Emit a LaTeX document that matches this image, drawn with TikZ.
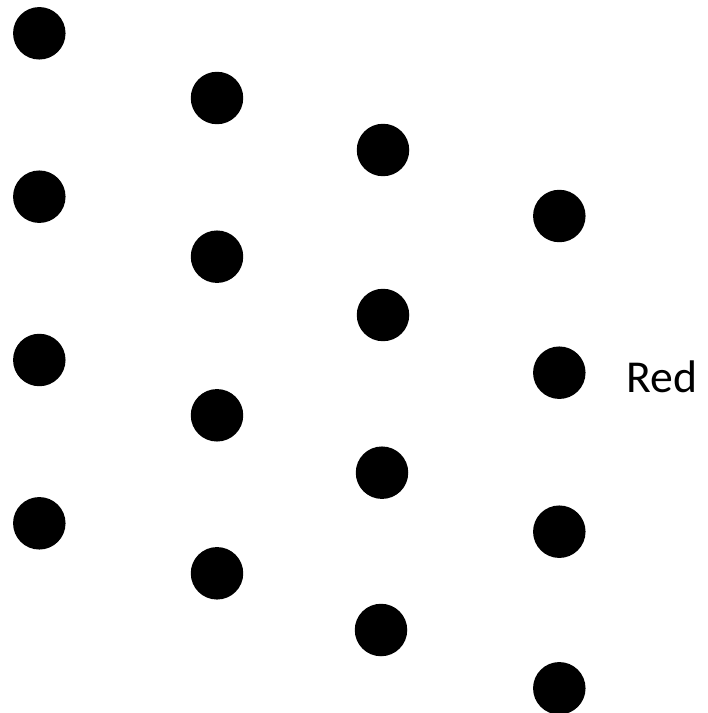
\documentclass[tikz,border=0pt]{standalone}
\usepackage{fontspec}
\setmainfont{Carlito}
\usepackage{tikz}
\usetikzlibrary{positioning}

\begin{document}
\begin{tikzpicture}[
  x=0.02cm, y=-0.02cm,
  dotnode/.style={circle, fill=black, draw=none, inner sep=0pt,
    minimum size=1.05cm},
  lbl/.style={font=\fontsize{26}{30}\selectfont, inner sep=0pt, anchor=base west},
]
\useasboundingbox (0,0) rectangle (707,713);

% first column
\node[dotnode] (a1) at (39.3,33.3) {};
\node[dotnode] (a2) at (39.3,196.7) {};
\node[dotnode] (a3) at (39.3,360) {};
\node[dotnode] (a4) at (39.3,523.3) {};

% second column
\node[dotnode] (b1) at (217,98) {};
\node[dotnode] (b2) at (217,256.7) {};
\node[dotnode] (b3) at (217,415.3) {};
\node[dotnode] (b4) at (217,573.3) {};

% third column
\node[dotnode] (c1) at (383,150) {};
\node[dotnode] (c2) at (383,315) {};
\node[dotnode] (c3) at (382,472.7) {};
\node[dotnode] (c4) at (381,630) {};

% fourth column
\node[dotnode] (d1) at (559.3,216) {};
\node[dotnode] (d2) at (559.3,372.7) {};
\node[dotnode] (d3) at (559.3,531.7) {};
\node[dotnode] (d4) at (559.3,688.3) {};

\node[lbl] (red) at (626,392.7) {Red};
\end{tikzpicture}
\end{document}
